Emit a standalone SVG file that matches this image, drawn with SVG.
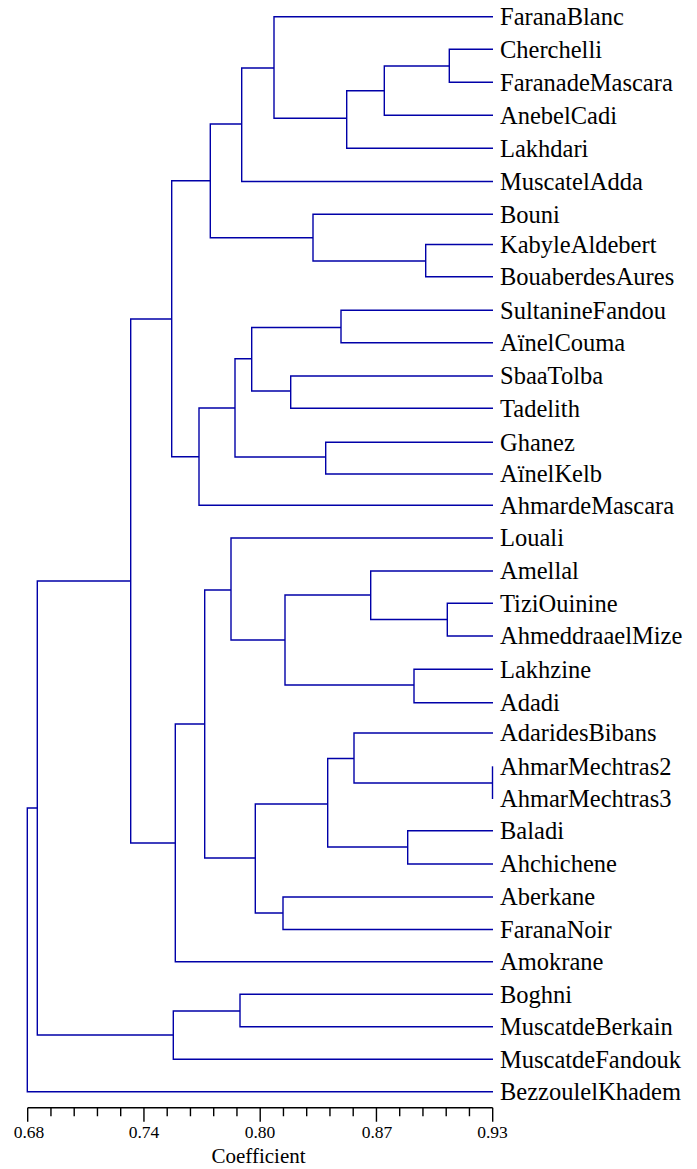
<svg xmlns="http://www.w3.org/2000/svg" width="697" height="1169" viewBox="0 0 697 1169">
<style>
.leaf{font-family:"Liberation Serif","Times New Roman",serif;font-size:24.5px;fill:#000}
.ax{font-family:"Liberation Serif","Times New Roman",serif;font-size:17.5px;fill:#000;text-anchor:middle}
.ttl{font-family:"Liberation Serif","Times New Roman",serif;font-size:21px;fill:#000;text-anchor:middle}
.ln{fill:none;stroke:#0000A8;stroke-width:1.4}
.axl{fill:none;stroke:#000;stroke-width:1.4}
</style>
<rect width="697" height="1169" fill="#fff"/>
<g id="connectors">
<path class="ln" d="M493 49.3H449.3V82.3H493"/>
<path class="ln" d="M449.3 66H384.3V115.3H493"/>
<path class="ln" d="M384.3 90.7H346.7V148.3H493"/>
<path class="ln" d="M493 16.7H274V118.3H346.7"/>
<path class="ln" d="M274 68H241.7V181.5H493"/>
<path class="ln" d="M493 244.5H425.7V276.7H493"/>
<path class="ln" d="M493 214.3H313V261H425.7"/>
<path class="ln" d="M241.7 124H210.3V237.7H313"/>
<path class="ln" d="M493 310.3H341V342.7H493"/>
<path class="ln" d="M493 376H290.7V408.3H493"/>
<path class="ln" d="M341 327.5H251.7V391H290.7"/>
<path class="ln" d="M493 442.3H325.7V474H493"/>
<path class="ln" d="M251.7 358.7H235V457H325.7"/>
<path class="ln" d="M235 408H199V505.2H493"/>
<path class="ln" d="M210.3 180.7H171.7V456.7H199"/>
<path class="ln" d="M493 603.3H447.3V636H493"/>
<path class="ln" d="M493 571H370.7V619.5H447.3"/>
<path class="ln" d="M493 669.3H414V702.7H493"/>
<path class="ln" d="M370.7 595H285V685H414"/>
<path class="ln" d="M493 538H231V640H285"/>
<path class="ln" d="M492.5 766.3V799"/>
<path class="ln" d="M493 733H354V783H492.5"/>
<path class="ln" d="M493 830.7H407.7V864H493"/>
<path class="ln" d="M354 758.5H327.7V847H407.7"/>
<path class="ln" d="M493 897H283V929.5H493"/>
<path class="ln" d="M327.7 804H255.3V913H283"/>
<path class="ln" d="M231 590H204.7V858H255.3"/>
<path class="ln" d="M204.7 724H175.3V961.7H493"/>
<path class="ln" d="M171.7 319H130.7V843H175.3"/>
<path class="ln" d="M493 994.2H240V1026.7H493"/>
<path class="ln" d="M240 1011H173.3V1059.3H493"/>
<path class="ln" d="M130.7 581H37.3V1035H173.3"/>
<path class="ln" d="M37.3 808H27.3V1091.7H493"/>
</g>
<g id="leaf-FaranaBlanc"><text class="leaf" x="500" y="25">FaranaBlanc</text></g>
<g id="leaf-Cherchelli"><text class="leaf" x="500" y="57.6">Cherchelli</text></g>
<g id="leaf-FaranadeMascara"><text class="leaf" x="500" y="90.6">FaranadeMascara</text></g>
<g id="leaf-AnebelCadi"><text class="leaf" x="500" y="123.6">AnebelCadi</text></g>
<g id="leaf-Lakhdari"><text class="leaf" x="500" y="156.6">Lakhdari</text></g>
<g id="leaf-MuscatelAdda"><text class="leaf" x="500" y="189.8">MuscatelAdda</text></g>
<g id="leaf-Bouni"><text class="leaf" x="500" y="222.6">Bouni</text></g>
<g id="leaf-KabyleAldebert"><text class="leaf" x="500" y="252.8">KabyleAldebert</text></g>
<g id="leaf-BouaberdesAures"><text class="leaf" x="500" y="285">BouaberdesAures</text></g>
<g id="leaf-SultanineFandou"><text class="leaf" x="500" y="318.6">SultanineFandou</text></g>
<g id="leaf-AinelCouma"><text class="leaf" x="500" y="351">AïnelCouma</text></g>
<g id="leaf-SbaaTolba"><text class="leaf" x="500" y="384.3">SbaaTolba</text></g>
<g id="leaf-Tadelith"><text class="leaf" x="500" y="416.6">Tadelith</text></g>
<g id="leaf-Ghanez"><text class="leaf" x="500" y="450.6">Ghanez</text></g>
<g id="leaf-AinelKelb"><text class="leaf" x="500" y="482.3">AïnelKelb</text></g>
<g id="leaf-AhmardeMascara"><text class="leaf" x="500" y="513.5">AhmardeMascara</text></g>
<g id="leaf-Louali"><text class="leaf" x="500" y="546.3">Louali</text></g>
<g id="leaf-Amellal"><text class="leaf" x="500" y="579.3">Amellal</text></g>
<g id="leaf-TiziOuinine"><text class="leaf" x="500" y="611.6">TiziOuinine</text></g>
<g id="leaf-AhmeddraaelMize"><text class="leaf" x="500" y="644.3">AhmeddraaelMize</text></g>
<g id="leaf-Lakhzine"><text class="leaf" x="500" y="677.6">Lakhzine</text></g>
<g id="leaf-Adadi"><text class="leaf" x="500" y="711">Adadi</text></g>
<g id="leaf-AdaridesBibans"><text class="leaf" x="500" y="741.3">AdaridesBibans</text></g>
<g id="leaf-AhmarMechtras2"><text class="leaf" x="500" y="774.6">AhmarMechtras2</text></g>
<g id="leaf-AhmarMechtras3"><text class="leaf" x="500" y="807.3">AhmarMechtras3</text></g>
<g id="leaf-Baladi"><text class="leaf" x="500" y="839">Baladi</text></g>
<g id="leaf-Ahchichene"><text class="leaf" x="500" y="872.3">Ahchichene</text></g>
<g id="leaf-Aberkane"><text class="leaf" x="500" y="905.3">Aberkane</text></g>
<g id="leaf-FaranaNoir"><text class="leaf" x="500" y="937.8">FaranaNoir</text></g>
<g id="leaf-Amokrane"><text class="leaf" x="500" y="970">Amokrane</text></g>
<g id="leaf-Boghni"><text class="leaf" x="500" y="1002.5">Boghni</text></g>
<g id="leaf-MuscatdeBerkain"><text class="leaf" x="500" y="1035">MuscatdeBerkain</text></g>
<g id="leaf-MuscatdeFandouk"><text class="leaf" x="500" y="1067.6">MuscatdeFandouk</text></g>
<g id="leaf-BezzoulelKhadem"><text class="leaf" x="500" y="1100">BezzoulelKhadem</text></g>
<g id="axis">
<path class="axl" d="M27.7 1107.7H492.7"/>
<path class="axl" d="M27.7 1107.7v14M143.95 1107.7v14M260.2 1107.7v14M376.45 1107.7v14M492.7 1107.7v14"/>
<path class="axl" d="M50.95 1107.7v8.5M74.2 1107.7v8.5M97.45 1107.7v8.5M120.7 1107.7v8.5M167.2 1107.7v8.5M190.45 1107.7v8.5M213.7 1107.7v8.5M236.95 1107.7v8.5M283.45 1107.7v8.5M306.7 1107.7v8.5M329.95 1107.7v8.5M353.2 1107.7v8.5M399.7 1107.7v8.5M422.95 1107.7v8.5M446.2 1107.7v8.5M469.45 1107.7v8.5"/>
<text class="ax" x="29" y="1137.7">0.68</text>
<text class="ax" x="144" y="1137.7">0.74</text>
<text class="ax" x="260" y="1137.7">0.80</text>
<text class="ax" x="377" y="1137.7">0.87</text>
<text class="ax" x="492.5" y="1137.7">0.93</text>
<text class="ttl" x="258.5" y="1163.3">Coefficient</text>
</g>
</svg>
